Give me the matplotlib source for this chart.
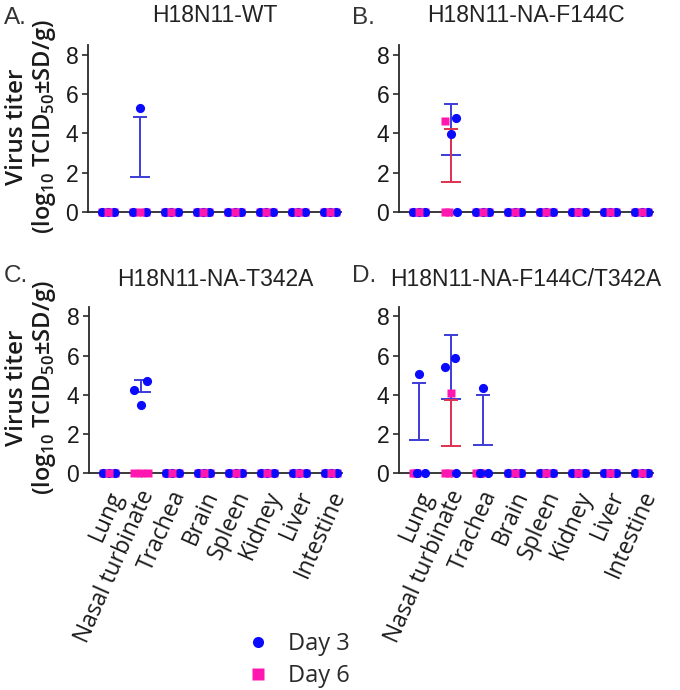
import numpy as np
import matplotlib
matplotlib.use("Agg")
import matplotlib.pyplot as plt
from matplotlib.lines import Line2D
import matplotlib.transforms as mtransforms

# ---------------- data ----------------
organs = ["Lung", "Nasal turbinate", "Trachea", "Brain", "Spleen", "Kidney", "Liver", "Intestine"]
panel_letters = ["A.", "B.", "C.", "D."]
panel_titles = ["H18N11-WT", "H18N11-NA-F144C", "H18N11-NA-T342A", "H18N11-NA-F144C/T342A"]
legend_labels = ["Day 3", "Day 6"]
yticks = [0, 2, 4, 6, 8]

Z = [0.0, 0.0, 0.0]
wt_day3 = [Z, [0.0, 5.3, 0.0], Z, Z, Z, Z, Z, Z]
wt_day6 = [Z, Z, Z, Z, Z, Z, Z, Z]
f144c_day3 = [Z, [3.95, 4.8, 0.0], Z, Z, Z, Z, Z, Z]
f144c_day6 = [Z, [4.65, 0.0, 0.0], Z, Z, Z, Z, Z, Z]
t342a_day3 = [Z, [4.25, 3.5, 4.7], Z, Z, Z, Z, Z, Z]
t342a_day6 = [Z, Z, Z, Z, Z, Z, Z, Z]
dbl_day3 = [[0.0, 5.05, 0.0], [5.4, 5.9, 0.0], [0.0, 4.35, 0.0], Z, Z, Z, Z, Z]
dbl_day6 = [Z, [4.1, 0.0, 0.0], Z, Z, Z, Z, Z, Z]

series = [(wt_day3, wt_day6), (f144c_day3, f144c_day6),
          (t342a_day3, t342a_day6), (dbl_day3, dbl_day6)]

# ---------------- layout / style ----------------
D = 0.2
default_jitter = [-D, 0.0, D]
jitter_override = {
    (1, 1, 0): [0.0, 0.17, 0.19],
    (1, 1, 1): [-0.17, -0.2, -0.05],
    (2, 1, 1): [-0.22, 0.0, 0.22],
    (3, 0, 0): [-0.08, 0.0, 0.18],
    (3, 0, 1): [-0.2, -0.1, -0.05],
    (3, 1, 0): [-0.19, 0.14, 0.17],
    (3, 1, 1): [0.0, -0.2, -0.05],
    (3, 2, 0): [-0.08, 0.0, 0.18],
    (3, 2, 1): [-0.2, -0.1, -0.05],
}
c_day3 = "#0a0aff"
c_day6 = "#ff17b0"
c_err3 = "#3c3cd8"
c_err6 = "#e0304e"
axcol = "#2a2a2a"

W, H = 680, 690
fig = plt.figure(figsize=(6.8, 6.9), dpi=100)

ax_px = [  # left, right, y0 (value 0), ytop (8.5)
    (88, 341, 212, 45),
    (399, 653, 212, 45),
    (89, 342, 473, 306.7),
    (399, 653, 473, 306.7),
]
letter_px = [(4, 18), (352, 18), (4, 276), (352, 276)]
title_y_px = [16, 16, 279, 279]

label_font = "Open Sans"
num_font = "Liberation Sans"

axes = []
for k, (l, r, y0, yt) in enumerate(ax_px):
    ax = fig.add_axes([l / W, 1 - y0 / H, (r - l) / W, (y0 - yt) / H])
    axes.append(ax)
    ax.set_xlim(-0.63, 7.35)
    ax.set_ylim(0, 8.5)
    for s in ["top", "right"]:
        ax.spines[s].set_visible(False)
    for s in ["left", "bottom"]:
        ax.spines[s].set_color(axcol)
        ax.spines[s].set_linewidth(1.3)
        ax.spines[s].set_zorder(2.5)
    ax.set_yticks(yticks)
    ax.set_yticklabels([str(t) for t in yticks], fontsize=16.5, family=num_font, color="#1a1a1a")
    ax.tick_params(axis="y", length=4, width=1.2, color=axcol, pad=3)
    x = np.arange(len(organs))
    ax.set_xticks(x)
    ax.tick_params(axis="x", length=3, width=1.0, color=axcol, pad=7)
    if k >= 2:
        ax.set_xticklabels(organs, rotation=66, ha="right", va="top",
                           rotation_mode="anchor", fontsize=16.5, family=label_font,
                           color="#1a1a1a")
        shift = mtransforms.ScaledTranslation(-3 / 100, 0, fig.dpi_scale_trans)
        for t in ax.get_xticklabels():
            t.set_transform(t.get_transform() + shift)
    else:
        ax.set_xticklabels([])

    d3, d6 = series[k]
    for day, (vals_all, mk, col, ecol, ms) in enumerate(
            [(d3, "o", c_day3, c_err3, 6.6), (d6, "s", c_day6, c_err6, 6.2)]):
        for i, vals in enumerate(vals_all):
            v = np.asarray(vals, dtype=float)
            offs = np.asarray(jitter_override.get((k, i, day), default_jitter))
            m = v.mean()
            sd = v.std(ddof=1)
            if sd > 0:
                ax.hlines(m, i - 0.32, i + 0.32, color=ecol, lw=1.4, zorder=2)
                ax.vlines(i, m, m + sd, color=ecol, lw=1.4, zorder=2)
                ax.hlines(m + sd, i - 0.22, i + 0.22, color=ecol, lw=1.4, zorder=2)
            for j in range(len(v)):
                z = 4 if day == 0 else (5 if offs[j] == 0.0 else 3)
                ax.plot(i + offs[j], v[j], marker=mk, color=col, ms=ms, ls="none",
                        mec="none", clip_on=False, zorder=z)

    cx = ((l + r) / 2) / W
    fig.text(cx, 1 - title_y_px[k] / H, panel_titles[k], ha="center", va="center",
             fontsize=16.5, family=num_font, color="#222222")
    lx, ly = letter_px[k]
    fig.text(lx / W, 1 - ly / H, panel_letters[k], ha="left", va="center",
             fontsize=17.5, family=num_font, color="#333333")

    if k in (0, 2):
        ycen = 1 - ((y0 + yt) / 2 - 2) / H
        fig.text(17 / W, ycen, "Virus titer", rotation=90, ha="center", va="center",
                 fontsize=17.5, family=label_font, weight="semibold", color="#1a1a1a")
        fig.text(44 / W, ycen, r"(log$_{\mathregular{10}}$ TCID$_{\mathregular{50}}$±SD/g)",
                 rotation=90, ha="center", va="center",
                 fontsize=17, family=label_font, weight="semibold", color="#1a1a1a")

handles = [Line2D([], [], marker="o", ls="none", color=c_day3, ms=8, mec="none"),
           Line2D([], [], marker="s", ls="none", color=c_day6, ms=8, mec="none")]
leg = fig.legend(handles, legend_labels, loc="center", bbox_to_anchor=(298 / W, 1 - 660 / H),
                 frameon=False, handletextpad=0.75, labelspacing=0.35, handlelength=1.0,
                 prop={"family": label_font, "size": 17})
for t in leg.get_texts():
    t.set_color("#2a2a2a")

fig.savefig("out.png", dpi=100)
